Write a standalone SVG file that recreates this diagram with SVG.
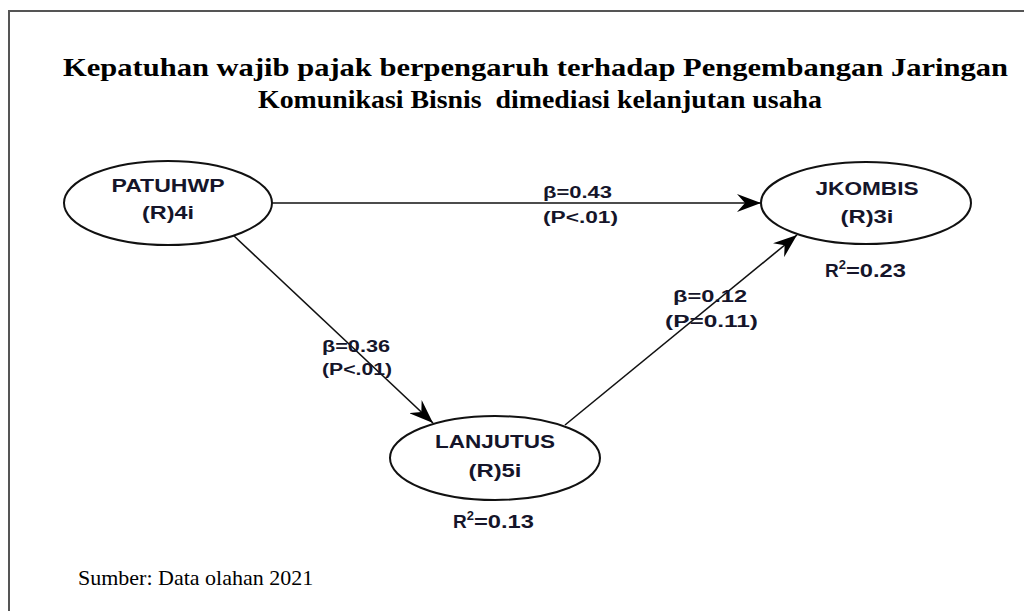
<svg xmlns="http://www.w3.org/2000/svg" width="1024" height="611" viewBox="0 0 1024 611">
  <style>
    .title { font-family: "Liberation Serif", "Times New Roman", serif; font-weight: bold; font-size: 26px; fill: #000; }
    .src { font-family: "Liberation Serif", "Times New Roman", serif; font-size: 22px; fill: #000; }
    .node { fill: #fff; stroke: #111; stroke-width: 2; }
    .nlabel { font-family: "Liberation Sans", Arial, sans-serif; font-weight: bold; font-size: 18px; fill: #15152a; text-anchor: middle; }
    .rsq { font-family: "Liberation Sans", Arial, sans-serif; font-weight: bold; font-size: 19px; fill: #15152a; }
    .elabel { font-family: "Liberation Sans", Arial, sans-serif; font-weight: bold; font-size: 16px; fill: #15152a; }
    .edge { stroke: #111; stroke-width: 1.6; fill: none; marker-end: url(#arrow); }
  </style>
  <defs>
    <marker id="arrow" markerWidth="26" markerHeight="18" refX="24" refY="9" orient="auto" markerUnits="userSpaceOnUse">
      <path d="M0,0 L24,9 L0,18 L8,9 Z" fill="#000"/>
    </marker>
  </defs>

  <rect width="1024" height="611" fill="#fff"/>
  <!-- frame -->
  <path d="M9,620 L9,11 L1030,11" fill="none" stroke="#555" stroke-width="2"/>

  <text class="title" x="63" y="76" textLength="945" lengthAdjust="spacingAndGlyphs">Kepatuhan wajib pajak berpengaruh terhadap Pengembangan Jaringan</text>
  <text class="title" x="258" y="108" textLength="564" lengthAdjust="spacingAndGlyphs" xml:space="preserve">Komunikasi Bisnis  dimediasi kelanjutan usaha</text>

  <g id="connectors">
    <line class="edge" x1="272" y1="203" x2="761" y2="203"/>
    <line class="edge" x1="233" y1="235" x2="433" y2="423"/>
    <line class="edge" x1="565" y1="425" x2="797" y2="235"/>
    <text class="elabel" x="543" y="198" textLength="69" lengthAdjust="spacingAndGlyphs">β=0.43</text>
    <text class="elabel" x="543" y="223" textLength="75" lengthAdjust="spacingAndGlyphs">(P&lt;.01)</text>
    <text class="elabel" x="322" y="352" textLength="68" lengthAdjust="spacingAndGlyphs">β=0.36</text>
    <text class="elabel" x="322" y="375" textLength="70" lengthAdjust="spacingAndGlyphs">(P&lt;.01)</text>
    <text class="elabel" x="673" y="302" textLength="74" lengthAdjust="spacingAndGlyphs">β=0.12</text>
    <text class="elabel" x="665" y="327" textLength="93" lengthAdjust="spacingAndGlyphs">(P=0.11)</text>
  </g>

  <g id="PATUHWP">
    <ellipse class="node" cx="168" cy="203" rx="104" ry="42"/>
    <text class="nlabel" x="168" y="192" textLength="113" lengthAdjust="spacingAndGlyphs">PATUHWP</text>
    <text class="nlabel" x="168" y="219" textLength="52" lengthAdjust="spacingAndGlyphs">(R)4i</text>
  </g>

  <g id="JKOMBIS">
    <ellipse class="node" cx="866" cy="203" rx="105" ry="41"/>
    <text class="nlabel" x="867" y="195" textLength="103" lengthAdjust="spacingAndGlyphs">JKOMBIS</text>
    <text class="nlabel" x="867" y="223" textLength="53" lengthAdjust="spacingAndGlyphs">(R)3i</text>
    <text class="rsq" x="825" y="277">R<tspan font-size="13" dy="-8">2</tspan><tspan dy="8" textLength="60" lengthAdjust="spacingAndGlyphs">=0.23</tspan></text>
  </g>

  <g id="LANJUTUS">
    <ellipse class="node" cx="495" cy="458" rx="105" ry="42"/>
    <text class="nlabel" x="495" y="448" textLength="120" lengthAdjust="spacingAndGlyphs">LANJUTUS</text>
    <text class="nlabel" x="495" y="477" textLength="53" lengthAdjust="spacingAndGlyphs">(R)5i</text>
    <text class="rsq" x="453" y="528">R<tspan font-size="13" dy="-8">2</tspan><tspan dy="8" textLength="60" lengthAdjust="spacingAndGlyphs">=0.13</tspan></text>
  </g>

  <text class="src" x="78" y="585">Sumber: Data olahan 2021</text>
</svg>
